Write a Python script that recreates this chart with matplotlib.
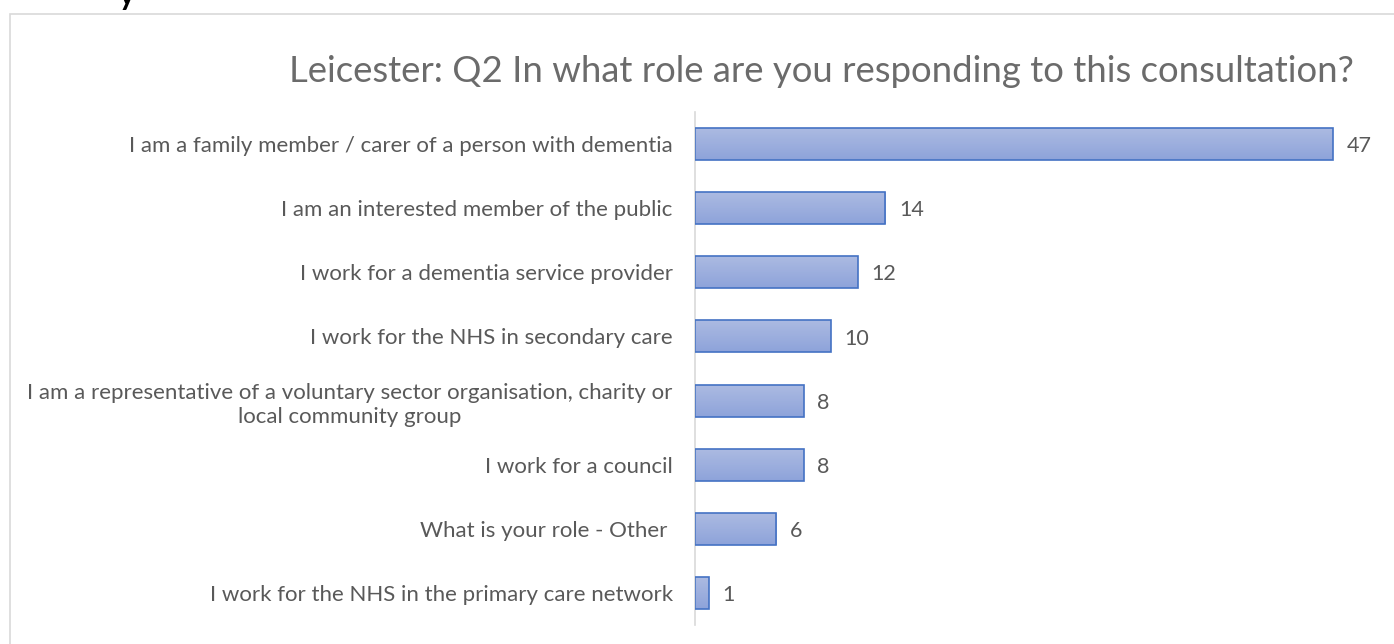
import numpy as np
import matplotlib.pyplot as plt
from matplotlib.colors import LinearSegmentedColormap
from matplotlib.patches import Rectangle

plt.rcParams['font.family'] = ['Lato', 'DejaVu Sans']

# survey responses, Q2 (role of respondent)
roles = ['I am a family member / carer of a person with dementia',
         'I am an interested member of the public',
         'I work for a dementia service provider',
         'I work for the NHS in secondary care',
         'I am a representative of a voluntary sector organisation, charity or\nlocal community group',
         'I work for a council',
         'What is your role - Other ',
         'I work for the NHS in the primary care network']
counts = [47, 14, 12, 10, 8, 8, 6, 1]

title = 'Leicester: Q2 In what role are you responding to this consultation?'

text_col = '#595959'
edge_col = '#4472C4'
grad = LinearSegmentedColormap.from_list('bargrad', ['#8DA3DA', '#ADBBE2'])

W, H = 1394, 644
fig = plt.figure(figsize=(W / 100, H / 100), dpi=100)

# outer chart frame, runs off the right and bottom of the image
fig.patches.append(Rectangle((9.5 / W, -0.05), 1.1, 1 - 13.5 / H + 0.05,
                             transform=fig.transFigure, fill=False,
                             ec='#D9D9D9', lw=1.2))
# descender of a heading sitting above the chart
fig.text(119 / W, 1 - 5 / H, 'y', fontsize=22, fontweight='bold',
         color='black', ha='left', va='baseline')

x0, x1 = 695, 695 + 50 * 13.574
y0, y1 = 625, 112
ax = fig.add_axes([x0 / W, 1 - y0 / H, (x1 - x0) / W, (y0 - y1) / H])

ypos = np.arange(len(roles))
bars = ax.barh(ypos, counts, height=0.5, facecolor='none',
               edgecolor=edge_col, linewidth=1.2, zorder=3)

# vertical gradient fill clipped to each bar
g = np.linspace(0, 1, 64).reshape(-1, 1)
for b in bars:
    x, y = b.get_x(), b.get_y()
    w, h = b.get_width(), b.get_height()
    im = ax.imshow(g, cmap=grad, aspect='auto', origin='lower',
                   extent=(x, x + w, y + h, y), zorder=2)
    im.set_clip_path(b)

for i, v in enumerate(counts):
    ax.annotate(str(v), (v, i), xytext=(10, -1.5), textcoords='offset points',
                ha='left', va='center', fontsize=15.5, color=text_col)

ax.set_xlim(0, 50)
ax.set_ylim(len(roles) - 0.5, -0.5)
ax.set_yticks(ypos)
ax.set_yticklabels(roles, fontsize=16, color=text_col,
                   multialignment='center', linespacing=1.25)
ax.set_xticks([])
ax.tick_params(axis='y', length=0, pad=16)
for s in ['top', 'right', 'bottom']:
    ax.spines[s].set_visible(False)
ax.spines['left'].set_color('#D9D9D9')
ax.spines['left'].set_linewidth(1.2)

fig.text(821 / W, 1 - 72 / H, title, fontsize=26.3, color='#6B6B6B',
         ha='center', va='center')

fig.savefig('out.png', dpi=100)
